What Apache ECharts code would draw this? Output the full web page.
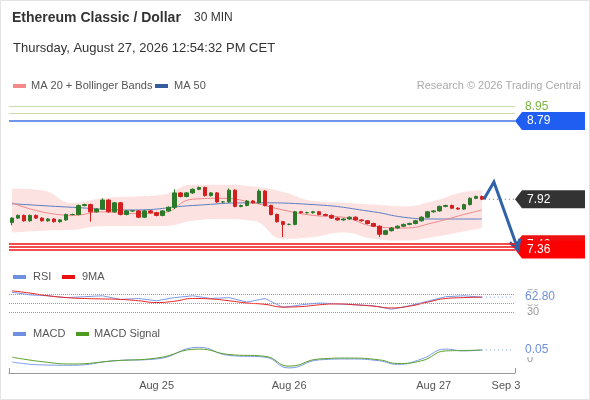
<!DOCTYPE html>
<html><head><meta charset="utf-8">
<script src="https://cdn.jsdelivr.net/npm/echarts@6/dist/echarts.min.js"></script>
<style>html,body{margin:0;padding:0;background:#fff}#c{width:590px;height:400px}</style>
</head><body><div id="c"></div>
<script>
const closes=[7.71,7.74,7.68,7.74,7.71,7.68,7.70,7.67,7.69,7.75,7.75,7.85,7.86,7.78,7.81,7.91,7.78,7.88,7.75,7.79,7.79,7.72,7.79,7.77,7.74,7.79,7.83,7.99,7.95,7.99,8.03,8.05,7.96,7.99,7.89,7.89,8.02,7.84,7.85,7.90,7.88,8.01,7.85,7.75,7.67,7.64,7.64,7.78,7.77,7.77,7.78,7.75,7.74,7.71,7.69,7.70,7.72,7.69,7.68,7.65,7.62,7.53,7.57,7.60,7.62,7.64,7.65,7.68,7.72,7.78,7.79,7.84,7.85,7.82,7.81,7.86,7.93,7.95,7.92];
const firstOpen=7.66;
const wickLows={0:7.63,13:7.67,45:7.50,61:7.50,27:7.81};
const wickHighs={27:8.03,41:8.03,15:7.93,36:8.04};
const bandIdx=[0,5,10,15,20,25,30,35,40,45,50,55,60,65,70,75,78];
const bandUpper=[8.04,8.02,7.88,7.93,7.95,7.97,8.08,8.08,8.06,8.00,7.90,7.88,7.86,7.84,7.90,8.00,8.02];
const bandLower=[7.55,7.57,7.58,7.62,7.62,7.62,7.68,7.70,7.68,7.48,7.50,7.55,7.48,7.46,7.50,7.56,7.60];
const ma20Idx=[0,10,15,20,25,30,35,40,45,50,55,60,65,70,75,78];
const ma20=[7.88,7.74,7.78,7.76,7.77,7.92,7.93,7.88,7.80,7.74,7.72,7.62,7.60,7.66,7.75,7.80];
const ma50Idx=[0,10,20,30,40,50,60,65,70,78];
const ma50=[7.87,7.83,7.80,7.85,7.88,7.86,7.78,7.72,7.70,7.70];
const rsiIdx=[0,3,6,9,12,15,18,21,24,27,30,33,36,39,42,45,48,51,54,57,60,63,66,69,72,75,78];
const rsi=[74,68,66,62,64,66,58,60,55,62,66,60,62,52,60,40,46,50,48,46,44,36,44,54,64,66,63];
const rsiMa=[77,72,66,62,60,59,58,55,51,54,60,59,55,50,47,41,42,46,48,46,43,39,43,52,60,62,63];
const macdIdx=[0,5,10,17,24,31,36,42,46,51,56,61,64,68,72,75,78];
const macd=[-0.017,-0.033,-0.035,-0.01,0.0,0.065,0.02,0.01,-0.05,-0.005,0.0,-0.01,-0.03,0.0,0.055,0.045,0.05];
const signal=[0.01,-0.015,-0.028,-0.01,0.005,0.055,0.025,0.015,-0.04,0.0,0.005,-0.005,-0.025,-0.01,0.045,0.047,0.05];
const nCats=84;
const xLabels={24:'Aug 25',46:'Aug 26',70:'Aug 27',82:'Sep 3'};
const levels=[{v:8.95,c:'#c9dcae'},{v:8.88,c:'#c9dcae'},{v:8.79,c:'#3f73e6'},{v:7.42,c:'#ee1111'},{v:7.39,c:'#ee1111'},{v:7.36,c:'#ee1111'}];
const lastPrice=7.92, target=7.36, peak=8.11;

const cats=[];for(let i=0;i<nCats;i++)cats.push(String(i));
const ohlc=closes.map((c,i)=>{const o=i?closes[i-1]:firstOpen;
 const hi=wickHighs[i]!==undefined?wickHighs[i]:Math.max(o,c)+0.01;
 const lo=wickLows[i]!==undefined?wickLows[i]:Math.min(o,c)-0.01;return [o,c,lo,hi];});
const pairs=(idx,v)=>idx.map((x,k)=>[x,v[k]]);
const chart=echarts.init(document.getElementById('c'));
const G={left:9,width:506};
const xa=(gi,show)=>({type:'category',gridIndex:gi,data:cats,boundaryGap:true,
 axisLine:{show:show,onZero:false,lineStyle:{color:'#999'}},axisTick:{show:false},
 axisLabel:{show:show,interval:0,color:'#555',fontSize:11,margin:7,formatter:(v,i)=>xLabels[i]||''},splitLine:{show:false}});
chart.setOption({animation:false,
 grid:[{...G,top:102,height:153},{...G,top:289.5,height:24.75},{...G,top:344.6,height:28.4}],
 xAxis:[xa(0,false),xa(1,false),xa(2,true)],
 yAxis:[{gridIndex:0,min:7.3,max:9.0,show:false,splitLine:{show:false}},
  {gridIndex:1,min:25,max:80,show:false,splitLine:{show:false}},
  {gridIndex:2,min:-0.078,max:0.08,show:false,splitLine:{show:false}}],
 series:[
  {type:'line',z:1,xAxisIndex:0,yAxisIndex:0,data:pairs(bandIdx,bandLower),stack:'b',symbol:'none',lineStyle:{width:0},smooth:true},
  {type:'line',z:1,xAxisIndex:0,yAxisIndex:0,data:bandIdx.map((x,k)=>[x,+(bandUpper[k]-bandLower[k]).toFixed(3)]),stack:'b',symbol:'none',lineStyle:{width:0},areaStyle:{color:'#fde2e2',opacity:1},smooth:true},
  {type:'line',z:2,xAxisIndex:0,yAxisIndex:0,data:pairs(ma50Idx,ma50),symbol:'none',smooth:true,lineStyle:{color:'#5b7fc0',width:1}},
  {type:'line',z:2,xAxisIndex:0,yAxisIndex:0,data:pairs(ma20Idx,ma20),symbol:'none',smooth:true,lineStyle:{color:'#f08a8a',width:1}},
  {type:'candlestick',z:5,xAxisIndex:0,yAxisIndex:0,data:ohlc,barWidth:4,
   itemStyle:{color:'#2a7a2a',color0:'#d21f1f',borderColor:'#2a7a2a',borderColor0:'#d21f1f'},
   markLine:{silent:true,symbol:'none',label:{show:false},data:levels.map(l=>({yAxis:l.v,lineStyle:{color:l.c,type:'solid',width:l.c==='#c9dcae'?1:1.5}}))}},
  {type:'line',xAxisIndex:1,yAxisIndex:1,data:pairs(rsiIdx,rsi),symbol:'none',lineStyle:{color:'#7b9ae8',width:1},
   markLine:{silent:true,symbol:'none',label:{show:false},lineStyle:{color:'#999',type:'dotted',width:1},data:[{yAxis:70},{yAxis:50},{yAxis:30}]}},
  {type:'line',xAxisIndex:1,yAxisIndex:1,data:pairs(rsiIdx,rsiMa),symbol:'none',smooth:true,lineStyle:{color:'#e82020',width:1}},
  {type:'line',xAxisIndex:2,yAxisIndex:2,data:pairs(macdIdx,macd),symbol:'none',smooth:true,lineStyle:{color:'#7b9ae8',width:1}},
  {type:'line',xAxisIndex:2,yAxisIndex:2,data:pairs(macdIdx,signal),symbol:'none',smooth:true,lineStyle:{color:'#5aa02c',width:1}}
 ]});
const P=(gi,x,y)=>chart.convertToPixel({gridIndex:gi},[x,y]);
const last=closes.length-1;
const pL=P(0,last,lastPrice),pK=P(0,last+2.3,peak),pT=P(0,last+5.5,target);
const ang=Math.atan2(pT[1]-pK[1],pT[0]-pK[0]);
const ah=(a)=>[pT[0]-11*Math.cos(ang+a),pT[1]-11*Math.sin(ang+a)];
const txt=(x,y,t,o)=>({type:'text',x,y,style:Object.assign({text:t,fill:'#555',fontSize:11,fontFamily:'Arial, Liberation Sans',verticalAlign:'middle'},o||{})});
const rect=(x,y,w,h,c)=>({type:'rect',shape:{x,y,width:w,height:h},style:{fill:c}});
const tag=(y,t,bg,fg)=>[{type:'polygon',shape:{points:[[515,y],[522,y-9],[585,y-9],[585,y+9],[522,y+9]]},style:{fill:bg}},txt(527,y,t,{fill:fg,fontSize:12})];
const yRsi=P(1,last,rsi[rsi.length-1])[1], yMacd=P(2,last,macd[macd.length-1])[1];
const g=[
 {type:'rect',shape:{x:0.5,y:0.5,width:589,height:399},style:{fill:'none',stroke:'#e3e3e3'}},
 txt(12,18,'Ethereum Classic / Dollar',{fill:'#333',fontSize:14,fontWeight:'bold'}),
 txt(194,18,'30 MIN',{fill:'#333',fontSize:12}),
 txt(13,48,'Thursday, August 27, 2026 12:54:32 PM CET',{fill:'#333',fontSize:13}),
 rect(13,84,13,4,'#f58a8a'),txt(31,86,'MA 20 + Bollinger Bands'),
 rect(155,84,13,4,'#335d9c'),txt(174,86,'MA 50'),
 txt(581,86,'Research © 2026 Trading Central',{fill:'#aaa',align:'right'}),
 txt(525,107,'8.95',{fill:'#79b540',fontSize:12}),
 ...tag(P(0,0,8.79)[1],'8.79','#1f5ef0','#fff'),
 ...tag(P(0,0,7.42)[1],'7.42','#ee1111','#fff'),
 ...tag(P(0,0,7.36)[1],'7.36','#f00','#fff'),
 {type:'line',shape:{x1:pL[0]+3,y1:pL[1],x2:515,y2:pL[1]},style:{stroke:'#666',lineDash:[1,3]}},
 ...tag(pL[1],'7.92','#333','#fff'),
 {type:'polyline',shape:{points:[[pL[0]+2,pL[1]],pK,pT]},style:{stroke:'#2f62a8',lineWidth:3,fill:'none'}},
 {type:'polyline',shape:{points:[ah(0.5),pT,ah(-0.5)]},style:{stroke:'#2f62a8',lineWidth:3,fill:'none'}},
 rect(13,275,13,4,'#6f8fe0'),txt(33,277,'RSI'),rect(62,275,13,4,'#e81010'),txt(82,277,'9MA'),
 txt(527,P(1,0,70)[1],'70',{fill:'#aaa'}),txt(527,P(1,0,50)[1],'50',{fill:'#aaa'}),txt(527,P(1,0,30)[1],'30',{fill:'#999'}),
 {type:'rect',shape:{x:524,y:yRsi-7,width:34,height:14},style:{fill:'#fff'}},
 txt(525,yRsi,'62.80',{fill:'#6f8fe0',fontSize:12}),
 {type:'line',shape:{x1:P(1,last,0)[0],y1:yRsi,x2:512,y2:yRsi},style:{stroke:'#7b9ae8',lineDash:[1,3]}},
 rect(13,332,13,4,'#6f8fe0'),txt(33,334,'MACD'),rect(76,332,13,4,'#4e9a1e'),txt(94,334,'MACD Signal'),
 txt(527,P(2,0,0)[1],'0',{fill:'#999'}),
 {type:'rect',shape:{x:524,y:yMacd-7,width:30,height:14},style:{fill:'#fff'}},
 txt(525,yMacd,'0.05',{fill:'#6f8fe0',fontSize:12}),
 {type:'line',shape:{x1:P(2,last,0)[0],y1:yMacd,x2:512,y2:yMacd},style:{stroke:'#7b9ae8',lineDash:[1,3]}},
 {type:'line',shape:{x1:9.5,y1:368,x2:9.5,y2:373},style:{stroke:'#999'}},
 {type:'line',shape:{x1:515.5,y1:368,x2:515.5,y2:373},style:{stroke:'#999'}}
];
chart.setOption({graphic:g});
</script></body></html>
